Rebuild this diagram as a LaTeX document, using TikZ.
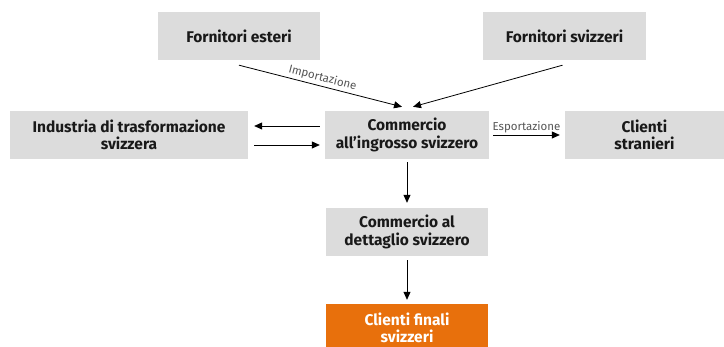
\documentclass[tikz,border=0pt]{standalone}
\usepackage{fontspec}
\setmainfont{Fira Sans}
\usetikzlibrary{arrows.meta}
\definecolor{boxgray}{HTML}{DCDCDC}
\definecolor{boxorange}{HTML}{E8700C}
\definecolor{labelgray}{HTML}{555555}
\tikzset{
  box/.style={fill=boxgray, minimum height=48pt, inner sep=0pt, align=center,
    text=black!90, font=\fontsize{15.5}{17.5}\selectfont\bfseries},
  finalbox/.style={box, fill=boxorange, text=white},
  flow/.style={-{Triangle[length=8pt,width=7pt]}, line width=0.8pt},
  flowlabel/.style={font=\fontsize{11.5}{13}\selectfont, text=labelgray, inner sep=2pt}
}
\begin{document}
\begin{tikzpicture}[x=1pt,y=-1pt]
  \useasboundingbox (0,0) rectangle (724,347);
  % top row
  \node[box, minimum width=162pt] (esteri) at (239,36) {Fornitori esteri};
  \node[box, minimum width=163pt] (svizzeri) at (564.5,36) {Fornitori svizzeri};
  % middle row
  \node[box, minimum width=238pt] (industria) at (129,135) {Industria di trasformazione\\svizzera};
  \node[box, minimum width=164pt] (ingrosso) at (407,135) {Commercio\\all’ingrosso svizzero};
  \node[box, minimum width=159pt] (stranieri) at (644.5,135) {Clienti\\stranieri};
  % lower rows
  \node[box, minimum width=162pt] (dettaglio) at (407,232) {Commercio al\\dettaglio svizzero};
  \node[finalbox, minimum width=162pt] (finali) at (407,328) {Clienti finali\\svizzeri};

  % into wholesale
  \draw[flow] ([yshift=-5pt]esteri.south) to node[flowlabel, sloped, above] {Importazione} ([xshift=-5pt,yshift=4pt]ingrosso.north);
  \draw[flow] ([xshift=-2pt,yshift=-5pt]svizzeri.south) to ([xshift=6pt,yshift=4pt]ingrosso.north);

  % industry
  \draw[flow] ([xshift=-5pt,yshift=9pt]ingrosso.west) to ([xshift=6pt,yshift=9pt]industria.east);
  \draw[flow] ([xshift=6pt,yshift=-10pt]industria.east) to ([xshift=-5pt,yshift=-10pt]ingrosso.west);

  % export
  \draw[flow] ([xshift=4pt]ingrosso.east) to node[flowlabel, above] {Esportazione} ([xshift=-5pt]stranieri.west);

  % down the chain
  \draw[flow] ([yshift=-3pt]ingrosso.south) to ([yshift=5pt]dettaglio.north);
  \draw[flow] ([yshift=-4pt]dettaglio.south) to ([yshift=4pt]finali.north);
\end{tikzpicture}
\end{document}
